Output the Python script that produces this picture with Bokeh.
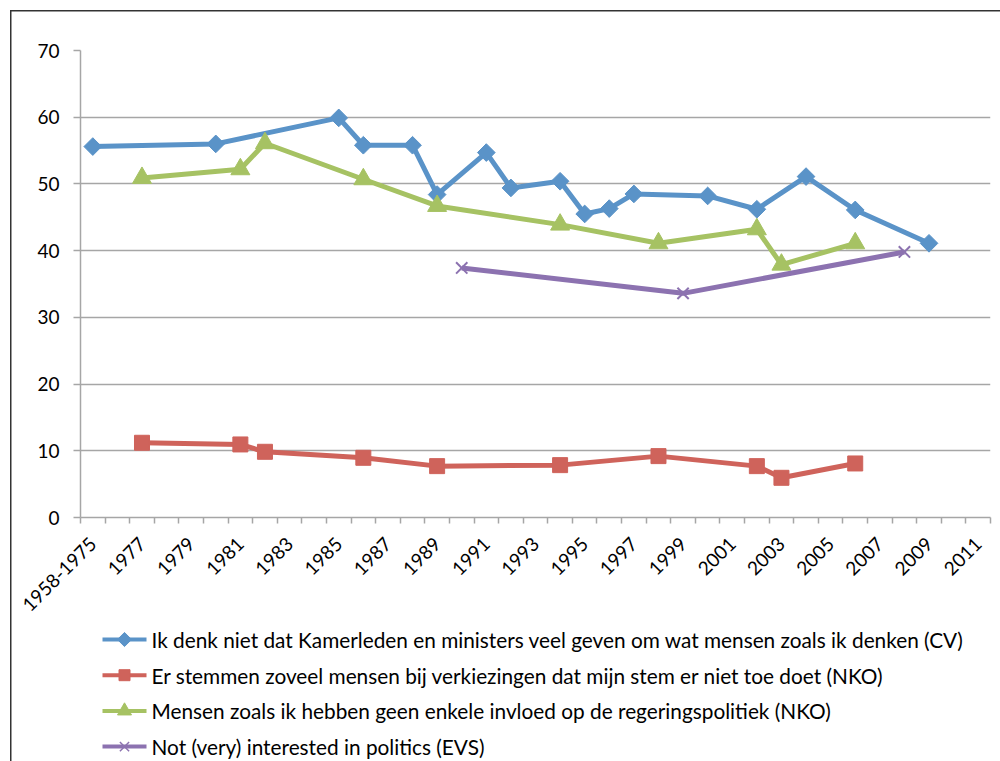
import math
from bokeh.plotting import figure
from bokeh.layouts import column
from bokeh.models import FixedTicker, Range1d
from bokeh.core.properties import value
from bokeh.embed import file_html
from bokeh.resources import INLINE

# ---- data ----
label_years = list(range(1975, 2012, 2))
first_label = "1958-1975"
y_ticks = [0, 10, 20, 30, 40, 50, 60, 70]

cv_years = [1975, 1980, 1985, 1986, 1988, 1989, 1991, 1992, 1994, 1995, 1996, 1997, 2000, 2002, 2004, 2006, 2009]
cv_vals = [55.6, 56.0, 59.9, 55.8, 55.8, 48.4, 54.7, 49.4, 50.4, 45.5, 46.3, 48.5, 48.2, 46.2, 51.1, 46.1, 41.1]

vote_years = [1977, 1981, 1982, 1986, 1989, 1994, 1998, 2002, 2003, 2006]
vote_vals = [11.2, 10.95, 9.85, 8.95, 7.7, 7.85, 9.2, 7.7, 5.95, 8.1]

infl_years = [1977, 1981, 1982, 1986, 1989, 1994, 1998, 2002, 2003, 2006]
infl_vals = [50.9, 52.2, 56.1, 50.7, 46.7, 43.9, 41.1, 43.2, 37.9, 41.1]

evs_years = [1990, 1999, 2008]
evs_vals = [37.4, 33.6, 39.8]

names = [
    "Ik denk niet dat Kamerleden en ministers veel geven om wat mensen zoals ik denken (CV)",
    "Er stemmen zoveel mensen bij verkiezingen dat mijn stem er niet toe doet (NKO)",
    "Mensen zoals ik hebben geen enkele invloed op de regeringspolitiek (NKO)",
    "Not (very) interested  in politics (EVS)",
]
colors = ["#5A93C8", "#CF635B", "#A6C263", "#8C72B0"]

FONT = "Lato"
GRID = "#A6A6A6"
W = 1000

p = figure(width=W, height=620, output_backend="svg", toolbar_location=None,
           x_range=Range1d(1974.5, 2011.5), y_range=Range1d(0, 70),
           min_border_left=80, min_border_right=10, min_border_top=50, min_border_bottom=103)
p.outline_line_color = None
p.background_fill_color = "white"
p.border_fill_alpha = 0
p.styles = {"box-shadow": "inset 10px 10px 0 0 #ffffff, inset 11.5px 11.5px 0 0 #333333",
            "background-color": "white"}
p.xgrid.visible = False
p.ygrid.ticker = FixedTicker(ticks=y_ticks[1:])
p.ygrid.grid_line_color = GRID
p.ygrid.grid_line_width = 1.5

# y axis
ya = p.yaxis[0]
ya.ticker = FixedTicker(ticks=y_ticks)
ya.axis_line_color = GRID
ya.axis_line_width = 1.5
ya.major_tick_line_color = GRID
ya.major_tick_line_width = 1.5
ya.major_tick_out = 7
ya.major_tick_in = 0
ya.minor_tick_line_color = None
ya.major_label_text_font = FONT
ya.major_label_text_font_size = "19px"
ya.major_label_text_color = "black"
ya.major_label_standoff = 14

# x axis
xa = p.xaxis[0]
xa.ticker = FixedTicker(ticks=label_years, minor_ticks=[y - 0.5 for y in range(1975, 2013)])
xa.major_label_overrides = {label_years[0]: first_label}
xa.axis_line_color = GRID
xa.axis_line_width = 1.5
xa.major_tick_line_color = None
xa.major_tick_out = 6
xa.minor_tick_line_color = GRID
xa.minor_tick_line_width = 1.5
xa.minor_tick_out = 6
xa.minor_tick_in = 0
xa.major_label_orientation = math.pi / 4
xa.major_label_text_font = FONT
xa.major_label_text_font_size = "19px"
xa.major_label_text_color = "black"
xa.major_label_standoff = 17

series = [
    (cv_years, cv_vals, dict(marker="square", angle=math.pi / 4, size=12.5),
     dict(marker="square", angle=math.pi / 4, size=10)),
    (vote_years, vote_vals, dict(marker="square", size=15), dict(marker="square", size=11)),
    (infl_years, infl_vals, dict(marker="triangle", size=19), dict(marker="triangle", size=14)),
    (evs_years, evs_vals, dict(marker="x", size=16, line_width=2), dict(marker="x", size=13, line_width=1.5)),
]
for (xs, ys, mk, _), c in zip(series, colors):
    p.line(xs, ys, line_color=c, line_width=5)
    p.scatter(xs, ys, fill_color=c, line_color=c, **mk)

# ---- legend panel below the chart (data units = pixels of this panel) ----
LH = 141
lg = figure(width=W, height=LH, output_backend="svg", toolbar_location=None,
            x_range=Range1d(80, 990), y_range=Range1d(LH, 0),
            min_border_left=80, min_border_right=10, min_border_top=0, min_border_bottom=0)
lg.axis.visible = False
lg.grid.visible = False
lg.outline_line_color = None
lg.background_fill_alpha = 0
lg.border_fill_alpha = 0
lg.styles = {"box-shadow": "inset 10px 0 0 0 #ffffff, inset 11.5px 0 0 0 #333333",
             "background-color": "white"}

row0, pitch = 19, 35.7
sx0, sx1, tx = 102, 146, 151
for i, ((_, _, _, lmk), c, n) in enumerate(zip(series, colors, names)):
    yy = row0 + i * pitch
    lg.segment(x0=[sx0], y0=[yy], x1=[sx1], y1=[yy], line_color=c, line_width=4)
    lg.scatter([(sx0 + sx1) / 2], [yy], fill_color=c, line_color=c, **lmk)
    lg.text(x=[tx], y=[yy], text=[n], text_font=value(FONT), text_font_size="20.8px",
            text_color="black", text_baseline="middle", text_align="left")

layout = column(p, lg, spacing=0)
open("out.html", "w").write(file_html(layout, INLINE))
